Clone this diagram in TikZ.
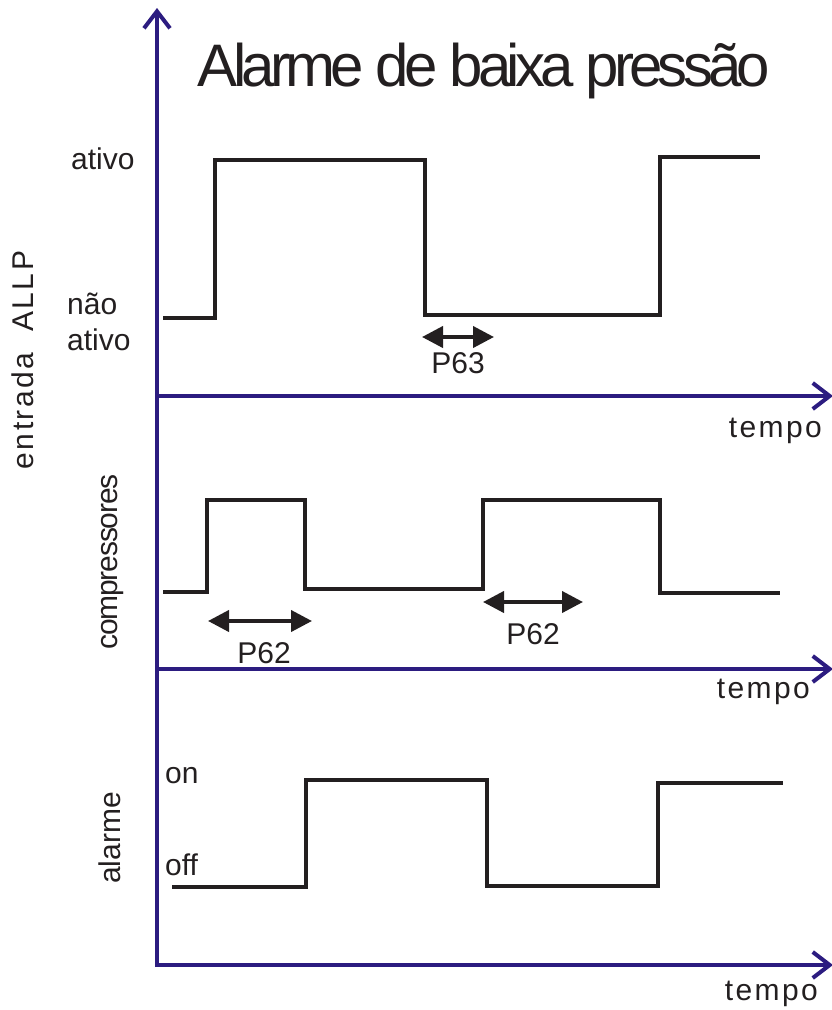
\documentclass[tikz,border=0pt]{standalone}
\usepackage{fontspec}
\setmainfont{Liberation Sans}
\newfontfamily\titlefont[LetterSpace=-8]{Liberation Sans}
\newfontfamily\widefont[LetterSpace=8]{Liberation Sans}
\newfontfamily\narrowfont[LetterSpace=-4]{Liberation Sans}
\usetikzlibrary{arrows.meta}

\definecolor{axisblue}{RGB}{44,28,128}
\definecolor{ink}{RGB}{35,31,32}

\tikzset{
  axis/.style={draw=axisblue, line width=4pt,
    -{Straight Barb[length=17pt,width=26pt]}},
  wave/.style={draw=ink, line width=4pt},
  span/.style={draw=ink, fill=ink, line width=4pt,
    {Triangle[length=21pt,width=21pt]}-{Triangle[length=21pt,width=21pt]}},
  lbl/.style={text=ink, inner sep=0pt, font=\fontsize{30}{36}\selectfont},
}

\begin{document}
\begin{tikzpicture}[x=1pt,y=-1pt]
\useasboundingbox (0,0) rectangle (831,1010);

% axes
\coordinate (origin) at (157,967);
\coordinate (top)    at (157,8);
\coordinate (y1) at (157,396);  \coordinate (end1) at (833,396);
\coordinate (y2) at (157,669);  \coordinate (end2) at (833,669);
\coordinate (y3) at (157,965);  \coordinate (end3) at (833,965);
\draw[axis] (origin) -- (top);
\draw[axis] (y1) -- (end1);
\draw[axis] (y2) -- (end2);
\draw[axis] (y3) -- (end3);

\node[lbl, anchor=base, font=\titlefont\fontsize{60}{60}\selectfont] (title) at (484,86) {Alarme de baixa pressão};

% entrada ALLP
\draw[wave] (163,318) -- (215,318) -- (215,160) -- (425,160) -- (425,315)
  -- (660,315) -- (660,157) -- (760,157);
\node[lbl, anchor=base west] (ativo) at (71,169) {ativo};
\node[lbl, anchor=north west, align=left, text depth=0pt] (naoativo) at (67,293) {não\\ativo};
\coordinate (p63a) at (422,337);
\coordinate (p63b) at (494,337);
\draw[span] (p63a) -- (p63b);
\node[lbl, anchor=base] (p63) at (458,373) {P63};
\node[lbl, anchor=base east, font=\widefont\fontsize{30}{36}\selectfont] (tempo1) at (822,437) {tempo};
\node[lbl, rotate=90, anchor=base, font=\widefont\fontsize{30}{36}\selectfont] (entrada) at (33,360) {entrada\ \ ALLP};

% compressores
\draw[wave] (163,592) -- (207,592) -- (207,500) -- (305,500) -- (305,589)
  -- (483,589) -- (483,500) -- (660,500) -- (660,593) -- (780,593);
\coordinate (p62a) at (208,621);
\coordinate (p62b) at (312,621);
\draw[span] (p62a) -- (p62b);
\node[lbl, anchor=base] (p62) at (264,663) {P62};
\coordinate (p62c) at (483,602);
\coordinate (p62d) at (583,602);
\draw[span] (p62c) -- (p62d);
\node[lbl, anchor=base] (p62bis) at (533,644) {P62};
\node[lbl, anchor=base east, font=\widefont\fontsize{30}{36}\selectfont] (tempo2) at (810,698) {tempo};
\node[lbl, rotate=90, anchor=base, font=\narrowfont\fontsize{30}{36}\selectfont] (compr) at (117,562) {compressores};

% alarme
\draw[wave] (172,887) -- (306,887) -- (306,780) -- (487,780) -- (487,886)
  -- (658,886) -- (658,783) -- (783,783);
\node[lbl, anchor=base west] (on) at (165,783) {on};
\node[lbl, anchor=base west] (off) at (165,875) {off};
\node[lbl, anchor=base east, font=\widefont\fontsize{30}{36}\selectfont] (tempo3) at (818,1000) {tempo};
\node[lbl, rotate=90, anchor=base] (alarme) at (120,838) {alarme};
\end{tikzpicture}
\end{document}
